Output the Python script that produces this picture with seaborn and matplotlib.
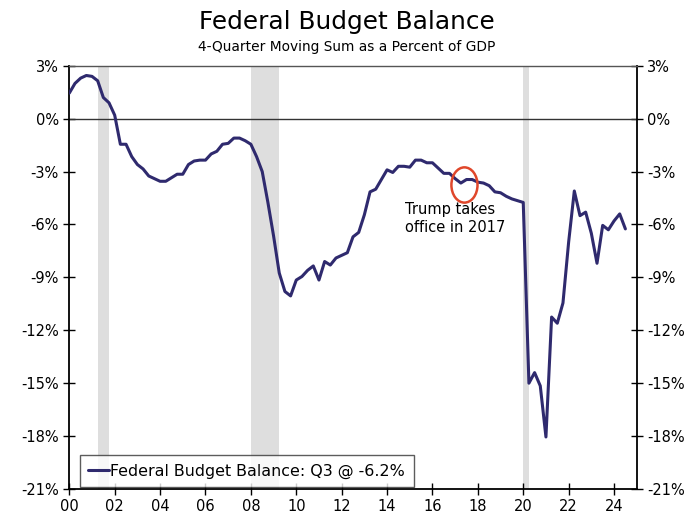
import numpy as np
import pandas as pd
import matplotlib
matplotlib.use("Agg")
import matplotlib.pyplot as plt
from matplotlib.patches import Ellipse
import seaborn as sns

# quarterly, 2000Q1 .. 2024Q3, percent of GDP
balance = [
    1.45, 2.0, 2.3, 2.45, 2.4, 2.15, 1.2, 0.9, 0.2, -1.45,
    -1.45, -2.15, -2.6, -2.85, -3.25, -3.4, -3.55, -3.55, -3.35, -3.15,
    -3.15, -2.6, -2.4, -2.35, -2.35, -2.0, -1.85, -1.45, -1.4, -1.1,
    -1.1, -1.25, -1.45, -2.15, -3.0, -4.75, -6.65, -8.75, -9.8, -10.05,
    -9.15, -8.95, -8.6, -8.35, -9.15, -8.1, -8.3, -7.9, -7.75, -7.6,
    -6.7, -6.45, -5.45, -4.15, -4.0, -3.45, -2.9, -3.05, -2.7, -2.7,
    -2.75, -2.35, -2.35, -2.5, -2.5, -2.8, -3.1, -3.1, -3.4, -3.65,
    -3.45, -3.45, -3.6, -3.65, -3.8, -4.15, -4.2, -4.4, -4.55, -4.65,
    -4.75, -15.0, -14.4, -15.15, -18.05, -11.25, -11.6, -10.45, -7.0, -4.1,
    -5.5, -5.3, -6.5, -8.2, -6.05, -6.3, -5.8, -5.4, -6.25,
]
start_year = 2000
recessions = [(2001.25, 2001.75), (2008.0, 2009.25), (2020.0, 2020.25)]
x_ticks = list(range(2000, 2025, 2))
x_labels = [f"{y % 100:02d}" for y in x_ticks]
y_ticks = list(range(3, -22, -3))
y_labels = [f"{v}%" for v in y_ticks]

df = pd.DataFrame({
    "date": start_year + np.arange(len(balance)) / 4,
    "balance": balance,
})

sns.set_style("ticks")
plt.rcParams["font.family"] = ["DejaVu Sans"]
plt.rcParams["text.color"] = "black"
plt.rcParams["xtick.color"] = "black"
plt.rcParams["ytick.color"] = "black"

fig = plt.figure(figsize=(6.93, 5.18), dpi=100)
ax = fig.add_axes([0.1, 0.056, 0.8188, 0.817])

for a, b in recessions:
    ax.axvspan(a, b, color="#dedede", lw=0, zorder=0)
ax.axhline(0, color="#333333", lw=1.0, zorder=1)

sns.lineplot(data=df, x="date", y="balance", ax=ax, color="#2f2a6e", lw=2.2,
             label="Federal Budget Balance: Q3 @ -6.2%", zorder=3)

ax.add_patch(Ellipse((2017.41, -3.76), 1.15, 2.0, fill=False,
                     ec="#e0472b", lw=1.8, zorder=4))
ax.text(2014.8, -4.7, "Trump takes\noffice in 2017", fontsize=10.5,
        va="top", ha="left", linespacing=1.25)

ax.set_xlim(2000, 2025)
ax.set_ylim(-21, 3)
ax.set_xticks(x_ticks)
ax.set_xticklabels(x_labels)
ax.set_yticks(y_ticks)
ax.set_yticklabels(y_labels)
ax.set_xlabel("")
ax.set_ylabel("")
ax.tick_params(axis="both", which="both", direction="inout", length=8,
               width=1, labelsize=10.5, colors="black")
ax.tick_params(axis="y", right=True, labelright=True)
for side in ["left", "right", "bottom"]:
    ax.spines[side].set_color("black")
    ax.spines[side].set_linewidth(1.3)
ax.spines["top"].set_color("#555555")
ax.spines["top"].set_linewidth(1.0)

leg = ax.legend(loc="lower left", bbox_to_anchor=(0.018, 0.004), fontsize=11.4,
                frameon=True, fancybox=False, handlelength=1.3, handletextpad=0.1,
                borderpad=0.55, borderaxespad=0)
leg.get_frame().set_edgecolor("#333333")
leg.get_frame().set_linewidth(1.0)

fig.text(0.5, 0.958, "Federal Budget Balance", ha="center", va="center", fontsize=17.8)
fig.text(0.5, 0.91, "4-Quarter Moving Sum as a Percent of GDP", ha="center",
         va="center", fontsize=9.9)

fig.savefig("out.png", dpi=100)
